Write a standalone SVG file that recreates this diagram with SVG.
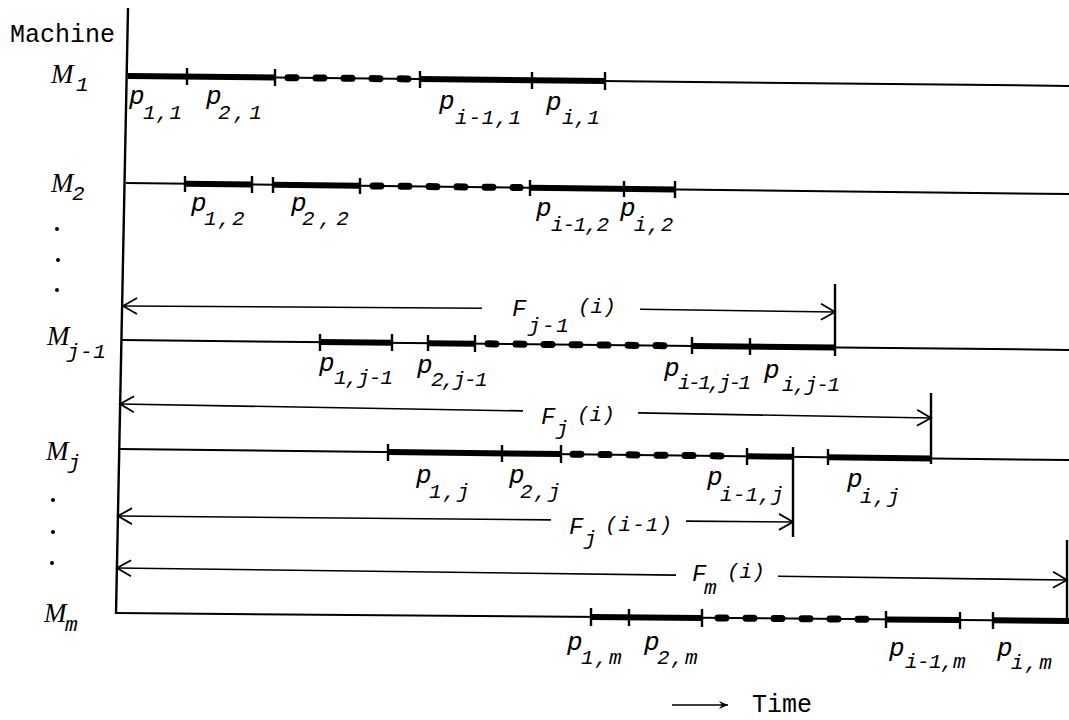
<svg xmlns="http://www.w3.org/2000/svg" width="1069" height="720" viewBox="0 0 1069 720">
<defs>
<style>
.bg{fill:#fff}
.axis{stroke:#000;stroke-width:2.4;fill:none}
.thin{stroke:#000;stroke-width:2;fill:none}
.thick{stroke:#000;stroke-width:6;fill:none}
.dash{stroke:#000;stroke-width:7;fill:none;stroke-dasharray:8,20;stroke-linecap:round}
.tick{stroke:#000;stroke-width:2.4;fill:none}
.arr{stroke:#000;stroke-width:1.6;fill:none}
.t{font-family:"Liberation Mono","Courier New",monospace;font-style:italic;font-size:21px;fill:#000}
.big{font-size:26px}
.fb{font-size:24px}
.m{font-family:"Liberation Serif","Times New Roman",serif;font-style:italic;font-size:27px;fill:#000}
.plain{font-family:"Liberation Mono","Courier New",monospace;font-size:25px;fill:#000}
.dot{fill:#000}
</style>
<marker id="open" viewBox="-16 -10 18 20" refX="0" refY="0" markerWidth="18" markerHeight="20" markerUnits="userSpaceOnUse" orient="auto-start-reverse">
<path d="M-14,-8 L0,0 L-14,8" fill="none" stroke="#000" stroke-width="1.8"/>
</marker>
<marker id="small" viewBox="-10 -5 11 10" refX="0" refY="0" markerWidth="11" markerHeight="10" markerUnits="userSpaceOnUse" orient="auto">
<path d="M-9,-4 L0,0 L-9,4 L-6,0 Z" fill="#000"/>
</marker>
</defs>
<rect class="bg" x="0" y="0" width="1069" height="720"/>

<text class="plain" x="10" y="42">Machine</text>

<g id="dots">
<circle class="dot" cx="57" cy="229" r="2"/>
<circle class="dot" cx="58" cy="260" r="2"/>
<circle class="dot" cx="57" cy="290" r="2"/>
<circle class="dot" cx="53" cy="500" r="2"/>
<circle class="dot" cx="53" cy="532" r="2"/>
<circle class="dot" cx="52" cy="563" r="2"/>
</g>

<g id="M1">
<text x="51" y="83" class="m">M</text><text x="76" y="91" class="t">1</text>
<line class="thin" x1="128" y1="76" x2="1069" y2="85.9"/>
<line class="thick" x1="128" y1="76" x2="275" y2="77.5"/>
<line class="dash" x1="288" y1="77.7" x2="412" y2="79"/>
<line class="thick" x1="420" y1="79.1" x2="605" y2="81"/>
<line class="tick" x1="187" y1="68" x2="187" y2="85"/>
<line class="tick" x1="275" y1="69" x2="275" y2="86"/>
<line class="tick" x1="420" y1="71" x2="420" y2="88"/>
<line class="tick" x1="532" y1="72" x2="532" y2="89"/>
<line class="tick" x1="605" y1="72" x2="605" y2="90"/>
<text class="t"><tspan class="big" x="129" y="104">p</tspan><tspan x="143" y="119" style="letter-spacing:0.7px">1,1</tspan></text>
<text class="t"><tspan class="big" x="206" y="104">p</tspan><tspan x="218" y="119" style="letter-spacing:3px">2,1</tspan></text>
<text class="t"><tspan class="big" x="439" y="109">p</tspan><tspan x="455" y="124" style="letter-spacing:0.8px">i-1,1</tspan></text>
<text class="t"><tspan class="big" x="546" y="110">p</tspan><tspan x="562" y="124">i,1</tspan></text>
</g>

<g id="M2">
<text x="51" y="192" class="m">M</text><text x="72" y="200" class="t">2</text>
<line class="thin" x1="126" y1="183" x2="1069" y2="194"/>
<line class="thick" x1="185" y1="183.7" x2="252" y2="184.5"/>
<line class="thick" x1="273" y1="184.7" x2="360" y2="185.7"/>
<line class="dash" x1="373" y1="185.9" x2="520" y2="187.6"/>
<line class="thick" x1="530" y1="187.7" x2="675" y2="189.4"/>
<line class="tick" x1="185" y1="176" x2="185" y2="192"/>
<line class="tick" x1="252" y1="176" x2="252" y2="193"/>
<line class="tick" x1="273" y1="177" x2="273" y2="193"/>
<line class="tick" x1="360" y1="178" x2="360" y2="194"/>
<line class="tick" x1="530" y1="180" x2="530" y2="196"/>
<line class="tick" x1="624" y1="181" x2="624" y2="197"/>
<line class="tick" x1="675" y1="181" x2="675" y2="198"/>
<text class="t"><tspan class="big" x="191" y="211">p</tspan><tspan x="204" y="225" style="letter-spacing:1.4px">1,2</tspan></text>
<text class="t"><tspan class="big" x="291" y="211">p</tspan><tspan x="302" y="225" style="letter-spacing:4.5px">2,2</tspan></text>
<text class="t"><tspan class="big" x="536" y="216">p</tspan><tspan x="551" y="231" style="letter-spacing:-1.2px">i-1,2</tspan></text>
<text class="t"><tspan class="big" x="620" y="216">p</tspan><tspan x="634" y="231" style="letter-spacing:0.8px">i,2</tspan></text>
</g>

<g id="Mj-1">
<text x="47" y="345" class="m">M</text><text x="67" y="358" class="t" style="letter-spacing:0.5px">j-1</text>
<line class="thin" x1="122" y1="340" x2="1069" y2="349.9"/>
<line class="thick" x1="320" y1="342.1" x2="392" y2="342.8"/>
<line class="thick" x1="428" y1="343.2" x2="475" y2="343.7"/>
<line class="dash" x1="488" y1="343.8" x2="682" y2="345.9"/>
<line class="thick" x1="692" y1="346" x2="835" y2="347.5"/>
<line class="tick" x1="320" y1="334" x2="320" y2="351"/>
<line class="tick" x1="392" y1="334" x2="392" y2="351"/>
<line class="tick" x1="428" y1="335" x2="428" y2="351"/>
<line class="tick" x1="475" y1="335" x2="475" y2="352"/>
<line class="tick" x1="692" y1="337" x2="692" y2="354"/>
<line class="tick" x1="750" y1="338" x2="750" y2="355"/>
<text class="t"><tspan class="big" x="319" y="371">p</tspan><tspan x="334" y="384" style="letter-spacing:-1px">1,j-1</tspan></text>
<text class="t"><tspan class="big" x="417" y="373">p</tspan><tspan x="431" y="386" style="letter-spacing:-1.6px">2,j-1</tspan></text>
<text class="t"><tspan class="big" x="664" y="376">p</tspan><tspan x="678" y="389" style="letter-spacing:-2.5px">i-1,j-1</tspan></text>
<text class="t"><tspan class="big" x="764" y="378">p</tspan><tspan x="782" y="391" style="letter-spacing:-1.2px">i,j-1</tspan></text>
</g>

<g id="Mj">
<text x="46" y="460" class="m">M</text><text x="68" y="469" class="t">j</text>
<line class="thin" x1="120" y1="449" x2="1069" y2="460"/>
<line class="thick" x1="388" y1="452.1" x2="561" y2="454.1"/>
<line class="dash" x1="573" y1="454.2" x2="736" y2="456.1"/>
<line class="thick" x1="747" y1="456.3" x2="793" y2="456.8"/>
<line class="thick" x1="828" y1="457.2" x2="931" y2="458.4"/>
<line class="tick" x1="388" y1="444" x2="388" y2="461"/>
<line class="tick" x1="502" y1="445" x2="502" y2="462"/>
<line class="tick" x1="561" y1="445" x2="561" y2="463"/>
<line class="tick" x1="747" y1="448" x2="747" y2="465"/>
<line class="tick" x1="828" y1="449" x2="828" y2="465"/>
<text class="t"><tspan class="big" x="416" y="483">p</tspan><tspan x="429" y="498" style="letter-spacing:1.4px">1,j</tspan></text>
<text class="t"><tspan class="big" x="509" y="483">p</tspan><tspan x="520" y="498" style="letter-spacing:1.4px">2,j</tspan></text>
<text class="t"><tspan class="big" x="707" y="485">p</tspan><tspan x="720" y="501" style="letter-spacing:0.2px">i-1,j</tspan></text>
<text class="t"><tspan class="big" x="847" y="487">p</tspan><tspan x="860" y="503" style="letter-spacing:1px">i,j</tspan></text>
</g>

<g id="Mm">
<text x="44" y="622" class="m">M</text><text x="65" y="631" class="t">m</text>
<line class="thin" x1="116" y1="613" x2="1069" y2="620.9"/>
<line class="thick" x1="591" y1="616.9" x2="702" y2="617.9"/>
<line class="dash" x1="718" y1="618" x2="872" y2="619.3"/>
<line class="thick" x1="886" y1="619.4" x2="960" y2="620"/>
<line class="thick" x1="993" y1="620.3" x2="1069" y2="620.9"/>
<line class="tick" x1="591" y1="608" x2="591" y2="626"/>
<line class="tick" x1="629" y1="609" x2="629" y2="626"/>
<line class="tick" x1="702" y1="609" x2="702" y2="627"/>
<line class="tick" x1="886" y1="611" x2="886" y2="628"/>
<line class="tick" x1="960" y1="612" x2="960" y2="629"/>
<line class="tick" x1="993" y1="612" x2="993" y2="629"/>
<text class="t"><tspan class="big" x="567" y="650">p</tspan><tspan x="581" y="664" style="letter-spacing:1.4px">1,m</tspan></text>
<text class="t"><tspan class="big" x="644" y="650">p</tspan><tspan x="657" y="664" style="letter-spacing:1.4px">2,m</tspan></text>
<text class="t"><tspan class="big" x="889" y="656">p</tspan><tspan x="905" y="668" style="letter-spacing:-0.6px">i-1,m</tspan></text>
<text class="t"><tspan class="big" x="997" y="656">p</tspan><tspan x="1011" y="669" style="letter-spacing:1.5px">i,m</tspan></text>
</g>

<g id="connectors">
<line class="axis" x1="128" y1="8" x2="116" y2="614"/>
<line class="arr" x1="123" y1="306" x2="482" y2="308.2" marker-start="url(#open)"/>
<line class="arr" x1="640" y1="309.2" x2="835" y2="312" marker-end="url(#open)"/>
<line class="tick" x1="835" y1="284" x2="835" y2="356"/>
<line class="arr" x1="120" y1="404" x2="523" y2="410.9" marker-start="url(#open)"/>
<line class="arr" x1="638" y1="412.9" x2="931" y2="418" marker-end="url(#open)"/>
<line class="tick" x1="931" y1="393" x2="931" y2="464"/>
<line class="arr" x1="118" y1="516" x2="551" y2="519.9" marker-start="url(#open)"/>
<line class="arr" x1="686" y1="521.1" x2="793" y2="522" marker-end="url(#open)"/>
<line class="tick" x1="793" y1="447" x2="793" y2="537"/>
<line class="arr" x1="117" y1="568" x2="676" y2="575.1" marker-start="url(#open)"/>
<line class="arr" x1="778" y1="576.3" x2="1067" y2="580" marker-end="url(#open)"/>
<line class="tick" x1="1067" y1="540" x2="1067" y2="621"/>
<line class="arr" x1="672" y1="705" x2="728" y2="705" stroke-width="2" marker-end="url(#small)"/>
</g>

<g id="flabels">
<text class="t"><tspan class="fb" x="512" y="316">F</tspan><tspan x="528" y="332" style="letter-spacing:1.5px">j-1</tspan><tspan x="578" y="313">(i)</tspan></text>
<text class="t"><tspan class="fb" x="541" y="424">F</tspan><tspan x="556" y="435">j</tspan><tspan x="577" y="421">(i)</tspan></text>
<text class="t"><tspan class="fb" x="569" y="534">F</tspan><tspan x="584" y="545">j</tspan><tspan x="605" y="531" style="letter-spacing:1px">(i-1)</tspan></text>
<text class="t"><tspan class="fb" x="692" y="581">F</tspan><tspan x="704" y="594">m</tspan><tspan x="727" y="578">(i)</tspan></text>
</g>

<text class="plain" x="752" y="712">Time</text>
</svg>
